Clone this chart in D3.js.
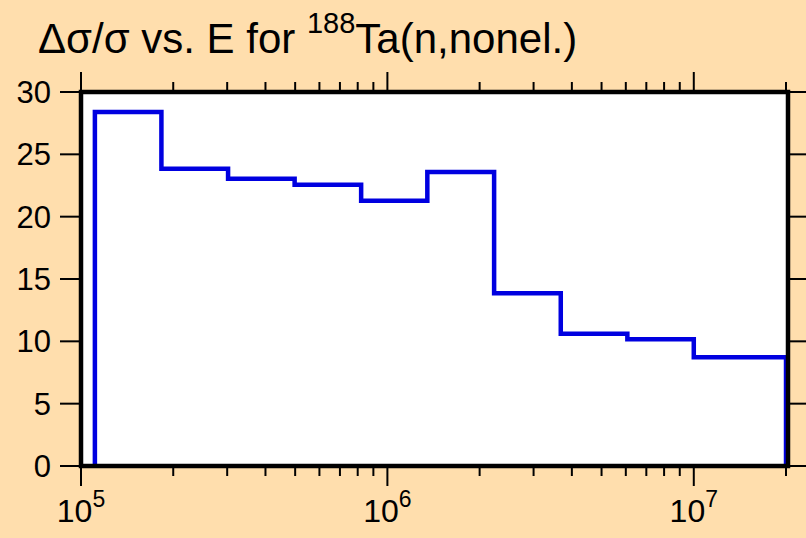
<!DOCTYPE html>
<html>
<head>
<meta charset="utf-8">
<script src="https://cdn.jsdelivr.net/npm/d3@7"></script>
<style>
  html, body { margin: 0; padding: 0; background: #FFDEAD; }
  svg { display: block; font-family: "Liberation Sans", Arial, Helvetica, sans-serif; }
</style>
</head>
<body>
<div id="chart"></div>
<script>
// bin edges (eV) and relative uncertainty (%)
var binEdges = [1.11e5, 1.83e5, 3.02e5, 4.98e5, 8.21e5, 1.35e6, 2.23e6, 3.68e6, 6.07e6, 1.0e7, 2.0e7];
var binValues = [28.4, 23.85, 23.04, 22.56, 21.28, 23.58, 13.85, 10.6, 10.16, 8.72];
var yTicks = [0, 5, 10, 15, 20, 25, 30];
var xLabelExps = [5, 6, 7];

var W = 806, H = 538;
var plotL = 81, plotT = 92, plotR = 788, plotB = 466;

var svg = d3.select("#chart").append("svg")
    .attr("width", W)
    .attr("height", H);

svg.append("rect")
    .attr("width", W)
    .attr("height", H)
    .attr("fill", "#FFDEAD");

var x = d3.scaleLog().domain([1e5, 2.03e7]).range([plotL, plotR]);
var y = d3.scaleLinear().domain([0, 30]).range([plotB, plotT]);

// plot area
svg.append("rect")
    .attr("x", plotL).attr("y", plotT)
    .attr("width", plotR - plotL).attr("height", plotB - plotT)
    .attr("fill", "#fff");

// step line
var pts = [[binEdges[0], 0]];
binValues.forEach(function(v, i) { pts.push([binEdges[i], v]); });
pts.push([binEdges[binEdges.length - 1], binValues[binValues.length - 1]]);
pts.push([binEdges[binEdges.length - 1], 0]);

var line = d3.line()
    .x(function(d) { return x(d[0]); })
    .y(function(d) { return y(d[1]); })
    .curve(d3.curveStepAfter);

svg.append("path")
    .datum(pts)
    .attr("d", line)
    .attr("fill", "none")
    .attr("stroke", "#0000e0")
    .attr("stroke-width", 4.5)
    .attr("stroke-linejoin", "miter");

// x ticks, top and bottom
var xt = x.ticks().filter(function(t) { return t >= 1e5 && t <= 2e7; });
function isMajor(t) { return Math.abs(Math.log10(t) - Math.round(Math.log10(t))) < 1e-9; }

svg.append("g").selectAll("line")
    .data(xt)
    .enter().append("line")
    .attr("x1", function(d) { return x(d); })
    .attr("x2", function(d) { return x(d); })
    .attr("y1", plotB)
    .attr("y2", function(d) { return plotB + (isMajor(d) ? 20 : 10); })
    .attr("stroke", "#000").attr("stroke-width", 2);

svg.append("g").selectAll("line")
    .data(xt)
    .enter().append("line")
    .attr("x1", function(d) { return x(d); })
    .attr("x2", function(d) { return x(d); })
    .attr("y1", plotT)
    .attr("y2", function(d) { return plotT - (isMajor(d) ? 20 : 10); })
    .attr("stroke", "#000").attr("stroke-width", 2);

// y ticks, left and right
svg.append("g").selectAll("line")
    .data(yTicks)
    .enter().append("line")
    .attr("x1", plotL - 21).attr("x2", plotL)
    .attr("y1", function(d) { return y(d); })
    .attr("y2", function(d) { return y(d); })
    .attr("stroke", "#000").attr("stroke-width", 2);

svg.append("g").selectAll("line")
    .data(yTicks)
    .enter().append("line")
    .attr("x1", plotR).attr("x2", W)
    .attr("y1", function(d) { return y(d); })
    .attr("y2", function(d) { return y(d); })
    .attr("stroke", "#000").attr("stroke-width", 2);

// frame
svg.append("rect")
    .attr("x", plotL).attr("y", plotT)
    .attr("width", plotR - plotL).attr("height", plotB - plotT)
    .attr("fill", "none")
    .attr("stroke", "#000")
    .attr("stroke-width", 4.5);

// y labels
svg.append("g").selectAll("text")
    .data(yTicks)
    .enter().append("text")
    .attr("x", 51)
    .attr("y", function(d) { return y(d) + 11; })
    .attr("text-anchor", "end")
    .attr("font-size", "31px")
    .attr("fill", "#000")
    .text(function(d) { return d; });

// x labels
var xl = svg.append("g").selectAll("text")
    .data(xLabelExps)
    .enter().append("text")
    .attr("x", function(d) { return x(Math.pow(10, d)); })
    .attr("y", 522)
    .attr("text-anchor", "middle")
    .attr("font-size", "32px")
    .attr("fill", "#000");
xl.append("tspan").text("10");
xl.append("tspan")
    .attr("font-size", "23px")
    .attr("dy", -15)
    .text(function(d) { return d; });

// title
var title = svg.append("text")
    .attr("x", 38)
    .attr("y", 53)
    .attr("font-size", "42px")
    .attr("fill", "#000");
title.append("tspan").text("\u0394\u03c3/\u03c3 vs. E for ");
title.append("tspan").attr("font-size", "29px").attr("dy", -20).text("188");
title.append("tspan").attr("dy", 20).text("Ta(n,nonel.)");
</script>
</body>
</html>
